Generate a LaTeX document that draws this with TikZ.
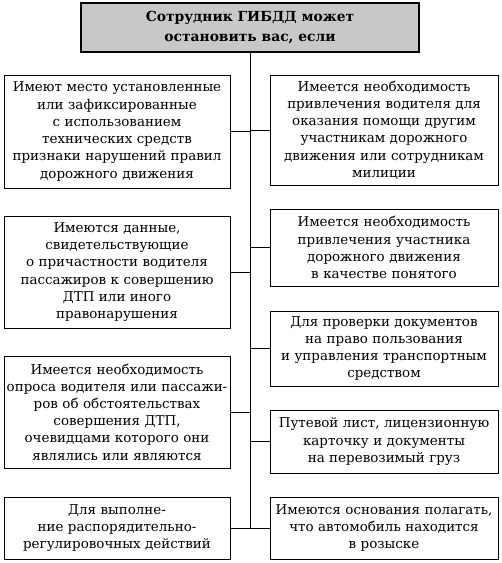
\documentclass[tikz,border=0pt]{standalone}
\usepackage{fontspec}
\setmainfont{DejaVu Serif}
\usepackage{xcolor}
\usepackage{tikz}

\definecolor{headgray}{RGB}{200,200,200}

\tikzset{
  reason/.style={draw, rectangle, line width=0.9bp, align=center, inner sep=0pt,
    font=\fontsize{13.5}{17.3}\selectfont},
  leftbox/.style={reason, minimum width=226bp, text width=224bp},
  rightbox/.style={reason, minimum width=228bp, text width=226bp},
  headbox/.style={draw, rectangle, line width=1.3bp, fill=headgray, align=center,
    minimum width=338bp, minimum height=49bp, inner sep=0pt,
    font=\fontsize{13.9}{20}\selectfont\bfseries}
}

\begin{document}
\begin{tikzpicture}[x=1bp, y=-1bp]
            \useasboundingbox (0,0) rectangle (502,563);

            \node[headbox] (head) at (250,27.5) {Сотрудник ГИБДД может\\остановить вас, если};

            \node[leftbox, minimum height=113bp] (l1) at (117,131.5) {Имеют место установленные\\или зафиксированные\\с использованием\\технических средств\\признаки нарушений правил\\дорожного движения};
            \node[leftbox, minimum height=112bp] (l2) at (117,272) {Имеются данные,\\свидетельствующие\\о причастности водителя\\пассажиров к совершению\\ДТП или иного\\правонарушения};
            \node[leftbox, minimum height=112bp] (l3) at (117,412) {Имеется необходимость\\опроса водителя или пассажи-\\ров об обстоятельствах\\совершения ДТП,\\очевидцами которого они\\являлись или являются};
            \node[leftbox, minimum height=62bp] (l4) at (117,528) {Для выполне-\\ние распорядительно-\\регулировочных действий};

            \node[rightbox, minimum height=110bp] (r1) at (384,130) {Имеется необходимость\\привлечения водителя для\\оказания помощи другим\\участникам дорожного\\движения или сотрудникам\\милиции};
            \node[rightbox, minimum height=77bp] (r2) at (384,247.5) {Имеется необходимость\\привлечения участника\\дорожного движения\\в качестве понятого};
            \node[rightbox, minimum height=75bp] (r3) at (384,348.5) {Для проверки документов\\на право пользования\\и управления транспортным\\средством};
            \node[rightbox, minimum height=63bp] (r4) at (384,441.5) {Путевой лист, лицензионную\\карточку и документы\\на перевозимый груз};
            \node[rightbox, minimum height=62bp] (r5) at (384,528) {Имеются основания полагать,\\что автомобиль находится\\в розыске};

            % trunk
            \coordinate (trunkend) at (250,528);
            \draw[line width=0.9bp] (head.south) -- (trunkend);

            \foreach \b in {l1,l2,l3,l4}
              \draw[line width=0.9bp] (\b.east) -- (\b.east -| head.south);
            \foreach \b in {r1,r2,r3,r4,r5}
              \draw[line width=0.9bp] (\b.west) -- (\b.west -| head.south);
        \end{tikzpicture}
\end{document}
